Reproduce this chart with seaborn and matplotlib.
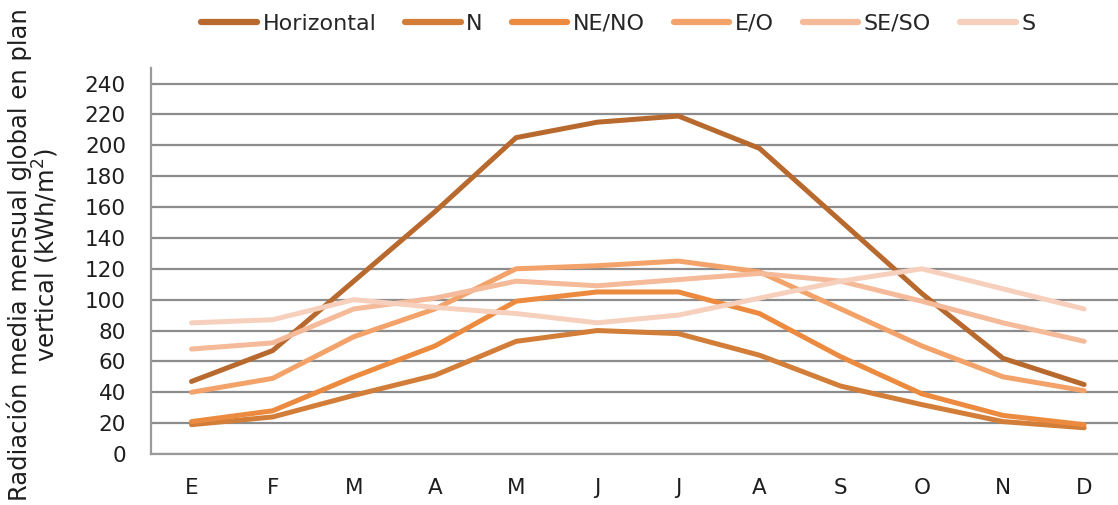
import numpy as np
import pandas as pd
import matplotlib
matplotlib.use("Agg")
import matplotlib.pyplot as plt
import seaborn as sns

months = ["E", "F", "M", "A", "M", "J", "J", "A", "S", "O", "N", "D"]
series_names = ["Horizontal", "N", "NE/NO", "E/O", "SE/SO", "S"]

horizontal = [47, 67, 112, 157, 205, 215, 219, 198, 151, 104, 62, 45]
north = [19, 24, 38, 51, 73, 80, 78, 64, 44, 32, 21, 17]
ne_no = [21, 28, 50, 70, 99, 105, 105, 91, 63, 39, 25, 19]
e_o = [40, 49, 76, 94, 120, 122, 125, 118, 94, 70, 50, 41]
se_so = [68, 72, 94, 101, 112, 109, 113, 117, 112, 99, 85, 73]
south = [85, 87, 100, 95, 91, 85, 90, 101, 112, 120, 107, 94]

colors = ["#B8692E", "#D27D38", "#EC8B3F", "#F3A36A", "#F4BA99", "#F7D0BD"]

values = [horizontal, north, ne_no, e_o, se_so, south]
df = pd.DataFrame({
    "idx": np.tile(np.arange(len(months)), len(series_names)),
    "valor": np.concatenate(values),
    "serie": np.repeat(series_names, len(months)),
})

sns.set_theme(style="white")
plt.rcParams["font.family"] = ["DejaVu Sans"]

fig = plt.figure(figsize=(11.18, 5.05), dpi=100)
ax = fig.add_axes([0.135, 0.101, 0.871, 0.764])

sns.lineplot(data=df, x="idx", y="valor", hue="serie", hue_order=series_names,
             palette=colors, linewidth=3.6, sort=False, ax=ax,
             solid_capstyle="round", legend=False)

ax.set_xlim(-0.5, len(months) - 0.5)
ax.set_ylim(0, 250)
ax.set_yticks(np.arange(0, 241, 20))
ax.set_xticks(np.arange(len(months)))
ax.set_xticklabels(months)
ax.tick_params(axis="both", length=0, labelsize=15.5, colors="#1E1E1E")
ax.tick_params(axis="x", pad=17)
ax.tick_params(axis="y", pad=18)
ax.yaxis.grid(True, color="#8C8C8C", linewidth=1.6)
ax.set_axisbelow(True)
for side in ["top", "right"]:
    ax.spines[side].set_visible(False)
for side in ["left", "bottom"]:
    ax.spines[side].set_color("#9A9A9A")
    ax.spines[side].set_linewidth(1.6)

ax.set_xlabel("")
ax.set_ylabel("Radiación media mensual global en plan\nvertical (kWh/m$^2$)",
              fontsize=17.5, color="#1E1E1E", linespacing=0.95)
ax.yaxis.set_label_coords(-0.092, 0.516)

handles = [plt.Line2D([0], [0], color=c, linewidth=4.5, solid_capstyle="round")
           for c in colors]
fig.legend(handles, series_names, loc="upper center", bbox_to_anchor=(0.553, 1.012),
           ncol=6, frameon=False, fontsize=16, handlelength=2.5,
           handletextpad=0.25, columnspacing=1.3)

fig.savefig("out.png", dpi=100)
